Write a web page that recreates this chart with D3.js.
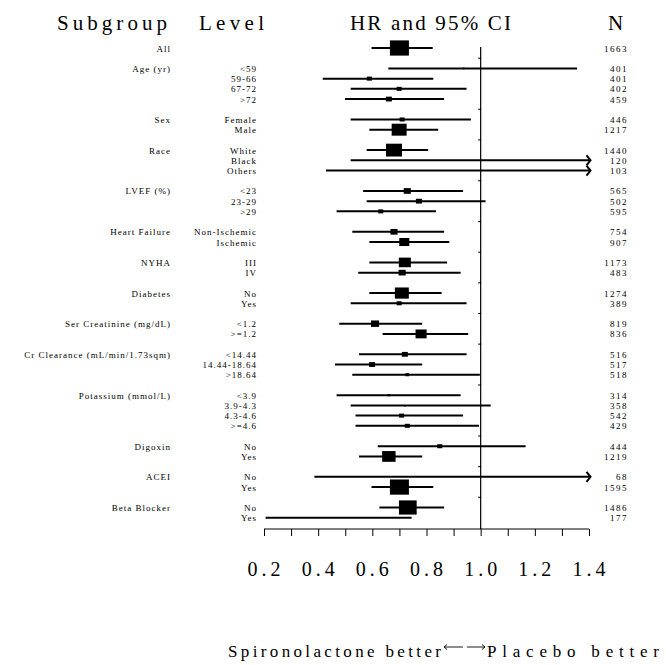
<!DOCTYPE html>
<html>
<head>
<meta charset="utf-8">
<script src="https://cdn.jsdelivr.net/npm/d3@7"></script>
<style>
  html, body { margin: 0; padding: 0; background: #fff; }
  svg { display: block; }
  text { font-family: "Liberation Serif", "Times New Roman", serif; fill: #000; }
</style>
</head>
<body>
<div id="chart"></div>
<script>
// ---------------- data ----------------
const subgroups = ["All", "Age (yr)", "Sex", "Race", "LVEF (%)", "Heart Failure", "NYHA",
  "Diabetes", "Ser Creatinine (mg/dL)", "Cr Clearance (mL/min/1.73sqm)", "Potassium (mmol/L)",
  "Digoxin", "ACEI", "Beta Blocker"];
const levels = [
  [""],
  ["<59", "59-66", "67-72", ">72"],
  ["Female", "Male"],
  ["White", "Black", "Others"],
  ["<23", "23-29", ">29"],
  ["Non-Ischemic", "Ischemic"],
  ["III", "IV"],
  ["No", "Yes"],
  ["<1.2", ">=1.2"],
  ["<14.44", "14.44-18.64", ">18.64"],
  ["<3.9", "3.9-4.3", "4.3-4.6", ">=4.6"],
  ["No", "Yes"],
  ["No", "Yes"],
  ["No", "Yes"]
];
const hr = [0.700,
  0.938, 0.589, 0.699, 0.661,
  0.710, 0.699,
  0.680, 1.250, 1.150,
  0.729, 0.772, 0.631,
  0.680, 0.718,
  0.720, 0.710,
  0.709, 0.699,
  0.610, 0.780,
  0.720, 0.599, 0.729,
  0.661, 0.720, 0.708, 0.729,
  0.849, 0.661,
  1.500, 0.700,
  0.731, 0.400];
const lower = [0.597,
  0.659, 0.417, 0.520, 0.499,
  0.520, 0.589,
  0.579, 0.520, 0.429,
  0.566, 0.579, 0.468,
  0.526, 0.589,
  0.589, 0.548,
  0.589, 0.520,
  0.478, 0.638,
  0.551, 0.462, 0.526,
  0.468, 0.520, 0.538, 0.538,
  0.620, 0.551,
  0.386, 0.597,
  0.626, 0.206];
const upper = [0.823,
  1.356, 0.825, 0.948, 0.865,
  0.964, 0.843,
  0.806, 2.800, 3.000,
  0.935, 1.018, 0.835,
  0.865, 0.884,
  0.876, 0.926,
  0.856, 0.948,
  0.784, 0.954,
  0.948, 0.784, 0.997,
  0.926, 1.037, 0.935, 0.994,
  1.166, 0.784,
  5.000, 0.825,
  0.865, 0.745];
const counts = [1663,
  401, 401, 402, 459,
  446, 1217,
  1440, 120, 103,
  565, 502, 595,
  754, 907,
  1173, 483,
  1274, 389,
  819, 836,
  516, 517, 518,
  314, 358, 542, 429,
  444, 1219,
  68, 1595,
  1486, 177];
// relative weight (%) of each estimate -> box area
const weights = [100,
  1, 7, 7, 10,
  7, 62,
  71, 0, 0,
  14, 10, 7,
  14, 28,
  40, 14,
  54, 7,
  18, 34,
  10, 10, 4,
  2, 0.3, 7, 7,
  7, 50,
  0, 100,
  87, 0];
const tickValues = [0.2, 0.3, 0.4, 0.5, 0.6, 0.7, 0.8, 0.9, 1.0, 1.1, 1.2, 1.3, 1.4];
const tickLabels = [0.2, 0.4, 0.6, 0.8, 1.0, 1.2, 1.4];
const headers = ["Subgroup", "Level", "HR and 95% CI", "N"];

// ------------- build rows --------------
const rows = [];
const gapRows = [];
let idx = 0, k = 0;
subgroups.forEach((g, gi) => {
  if (gi > 0) { gapRows.push(idx); idx++; }
  levels[gi].forEach((lv, li) => {
    rows.push({
      group: li === 0 ? g : "", level: lv, row: idx,
      hr: hr[k], lo: lower[k], hi: upper[k], n: counts[k], w: weights[k]
    });
    idx++; k++;
  });
});
const nRows = idx; // 47

// ------------- drawing -----------------
const W = 666, H = 665;
const svg = d3.select("#chart").append("svg").attr("width", W).attr("height", H);
svg.append("rect").attr("width", W).attr("height", H).attr("fill", "#fff");

const x = d3.scaleLinear().domain([0.2, 1.4]).range([264, 589]);
const y = d3.scaleLinear().domain([0, nRows - 1]).range([48, 517.7]);
const boxW = d3.scaleSqrt().domain([0, 100]).range([0, 19]);
const axisY = 529;

// headers
const hdr = [
  { t: headers[0], x: 57, len: 110 },
  { t: headers[1], x: 199, len: 65 },
  { t: headers[2], x: 350, len: 161 },
  { t: headers[3], x: 608, len: 18 }
];
svg.selectAll("text.hdr").data(hdr).join("text")
  .attr("class", "hdr")
  .attr("x", d => d.x).attr("y", 30)
  .attr("font-size", 21)
  .style("font-family", "'Liberation Serif', serif")
  .attr("textLength", d => d.len)
  .attr("lengthAdjust", "spacing")
  .text(d => d.t);

// reference line at HR = 1
svg.append("line")
  .attr("x1", x(1)).attr("x2", x(1))
  .attr("y1", 47).attr("y2", axisY)
  .attr("stroke", "#000").attr("stroke-width", 1.2);
svg.selectAll("line.gap").data(gapRows).join("line")
  .attr("class", "gap")
  .attr("x1", x(1) - 2.5).attr("x2", x(1) + 0.5)
  .attr("y1", d => y(d)).attr("y2", d => y(d))
  .attr("stroke", "#000").attr("stroke-width", 1);

// axis
const axis = d3.axisBottom(x).tickValues(tickValues).tickSize(7).tickFormat("");
const gAxis = svg.append("g").attr("transform", `translate(0,${axisY})`).call(axis);
gAxis.select(".domain").attr("stroke", "#000").attr("stroke-width", 1.2)
  .attr("d", `M${x(0.2)},0H${x(1.4)}`);
gAxis.selectAll(".tick line").attr("stroke", "#000").attr("stroke-width", 1);

svg.selectAll("text.tl").data(tickLabels).join("text")
  .attr("class", "tl")
  .attr("x", d => x(d) + 2).attr("y", 576)
  .attr("text-anchor", "middle")
  .attr("font-size", 20)
  .attr("letter-spacing", 4)
  .text(d => d.toFixed(1));

// CI lines
const xMax = x.domain()[1];
const g = svg.append("g");
g.selectAll("line.ci").data(rows).join("line")
  .attr("class", "ci")
  .attr("x1", d => x(Math.max(d.lo, 0.2)))
  .attr("x2", d => d.hi > xMax ? x(xMax) + 1 : x(d.hi))
  .attr("y1", d => y(d.row)).attr("y2", d => y(d.row))
  .attr("stroke", "#000").attr("stroke-width", 2);

// arrows for truncated CIs
g.selectAll("path.arr").data(rows.filter(d => d.hi > xMax)).join("path")
  .attr("class", "arr")
  .attr("d", d => {
    const ax = x(xMax) + 1.5, ay = y(d.row);
    return `M${ax - 4},${ay - 5}L${ax},${ay}L${ax - 4},${ay + 5}`;
  })
  .attr("fill", "none").attr("stroke", "#000").attr("stroke-width", 2);

// boxes
g.selectAll("rect.box").data(rows.filter(d => d.w > 0 && d.hr <= xMax)).join("rect")
  .attr("class", "box")
  .attr("x", d => x(d.hr) - boxW(d.w) / 2)
  .attr("y", d => y(d.row) - boxW(d.w) * 0.4)
  .attr("width", d => Math.max(boxW(d.w), 1.5))
  .attr("height", d => Math.max(boxW(d.w) * 0.8, 1.5))
  .attr("fill", "#000");

// labels
const lblSize = 9;
svg.selectAll("text.grp").data(rows.filter(d => d.group)).join("text")
  .attr("class", "grp")
  .attr("x", 171).attr("y", d => y(d.row) + 3.5)
  .attr("text-anchor", "end")
  .attr("font-size", lblSize)
  .attr("letter-spacing", 1)
  .text(d => d.group);

svg.selectAll("text.lvl").data(rows.filter(d => d.level)).join("text")
  .attr("class", "lvl")
  .attr("x", 257).attr("y", d => y(d.row) + 3.5)
  .attr("text-anchor", "end")
  .attr("font-size", lblSize)
  .attr("letter-spacing", 1)
  .text(d => d.level);

svg.selectAll("text.n").data(rows).join("text")
  .attr("class", "n")
  .attr("x", 628).attr("y", d => y(d.row) + 3.5)
  .attr("text-anchor", "end")
  .attr("font-size", lblSize)
  .attr("letter-spacing", 1.5)
  .text(d => d.n);

// bottom annotation
svg.append("text").attr("x", 228).attr("y", 657)
  .attr("font-size", 17).attr("textLength", 213).attr("lengthAdjust", "spacing")
  .text("Spironolactone better");
svg.append("text").attr("x", 487).attr("y", 657)
  .attr("font-size", 17).attr("textLength", 172).attr("lengthAdjust", "spacing")
  .text("Placebo better");
const arrowY = 647;
svg.append("path")
  .attr("d", `M463,${arrowY}H444M447,${arrowY - 2.5}L444,${arrowY}L447,${arrowY + 2.5}`)
  .attr("fill", "none").attr("stroke", "#000").attr("stroke-width", 0.9);
svg.append("path")
  .attr("d", `M467,${arrowY}H485M482,${arrowY - 2.5}L485,${arrowY}L482,${arrowY + 2.5}`)
  .attr("fill", "none").attr("stroke", "#000").attr("stroke-width", 0.9);
</script>
</body>
</html>
